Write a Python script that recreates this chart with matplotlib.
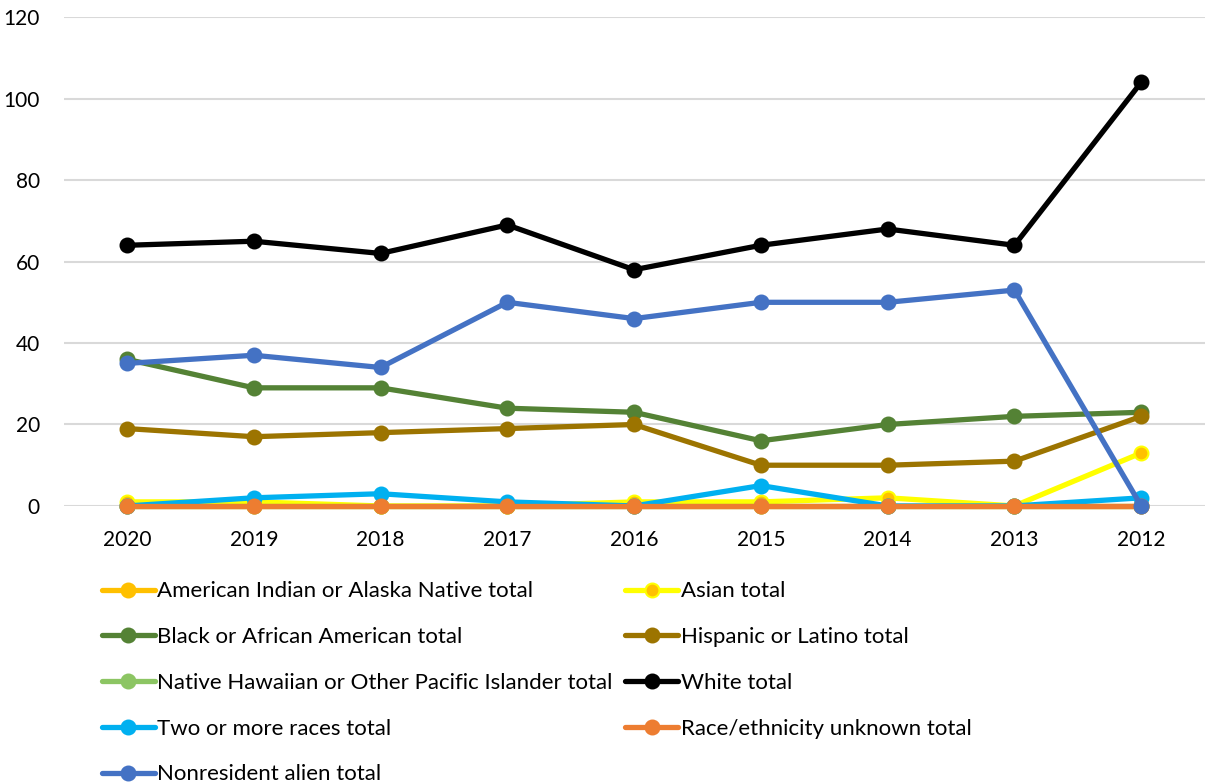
import matplotlib
matplotlib.use("Agg")
import matplotlib.pyplot as plt

plt.rcParams['font.family'] = ['Lato', 'DejaVu Sans']

years = ["2020", "2019", "2018", "2017", "2016", "2015", "2014", "2013", "2012"]

american_indian = [0, 0, 0, 0, 0, 0, 0, 0, 0]
asian = [1, 1, 0, 0, 1, 1, 2, 0, 13]
black = [36, 29, 29, 24, 23, 16, 20, 22, 23]
hispanic = [19, 17, 18, 19, 20, 10, 10, 11, 22]
native_hawaiian = [0, 0, 0, 0, 0, 0, 0, 0, 0]
white = [64, 65, 62, 69, 58, 64, 68, 64, 104]
two_or_more = [0, 2, 3, 1, 0, 5, 0, 0, 2]
unknown = [0, 0, 0, 0, 0, 0, 0, 0, 0]
nonresident = [35, 37, 34, 50, 46, 50, 50, 53, 0]

series = [
    ("American Indian or Alaska Native total", american_indian, "#FFC000", "#FFC000"),
    ("Asian total", asian, "#FFFF00", "#FFC000"),
    ("Black or African American total", black, "#548235", "#548235"),
    ("Hispanic or Latino total", hispanic, "#9C7400", "#9C7400"),
    ("Native Hawaiian or Other Pacific Islander total", native_hawaiian, "#8CC563", "#8CC563"),
    ("White total", white, "#000000", "#000000"),
    ("Two or more races total", two_or_more, "#00B0F0", "#00B0F0"),
    ("Race/ethnicity unknown total", unknown, "#ED7D31", "#ED7D31"),
    ("Nonresident alien total", nonresident, "#4472C4", "#4472C4"),
]

fig = plt.figure(figsize=(12.07, 7.82), dpi=100)
ax = fig.add_axes([0.0527, 0.353, 0.9453, 0.625])

x = list(range(len(years)))
handles = []
for name, vals, lc, mc in series:
    h, = ax.plot(x, vals, color=lc, lw=3.8, marker="o", markersize=10,
                 markerfacecolor=mc, markeredgecolor=lc, markeredgewidth=1.5,
                 label=name, solid_capstyle="round", clip_on=False)
    handles.append(h)

ax.set_xlim(-0.5, len(years) - 0.5)
ax.set_ylim(0, 120)
ax.set_yticks(range(0, 121, 20))
ax.set_xticks(x)
ax.set_xticklabels(years)
ax.tick_params(axis="both", length=0, labelsize=15, colors="#000000")
ax.tick_params(axis="x", pad=17)
ax.tick_params(axis="y", pad=17)
ax.grid(axis="y", color="#D9D9D9", lw=1.5)
ax.set_axisbelow(True)
for s in ax.spines.values():
    s.set_visible(False)

# legend reads row by row, matplotlib fills column by column
order = [0, 2, 4, 6, 8, 1, 3, 5, 7]
fig.legend([handles[i] for i in order], [series[i][0] for i in order],
           ncol=2, loc="upper left", bbox_to_anchor=(0.077, 0.268),
           frameon=False, fontsize=16, handlelength=2.4, handletextpad=0.1,
           columnspacing=0.55, labelspacing=1.16, borderaxespad=0)

fig.savefig("out.png", dpi=100)
